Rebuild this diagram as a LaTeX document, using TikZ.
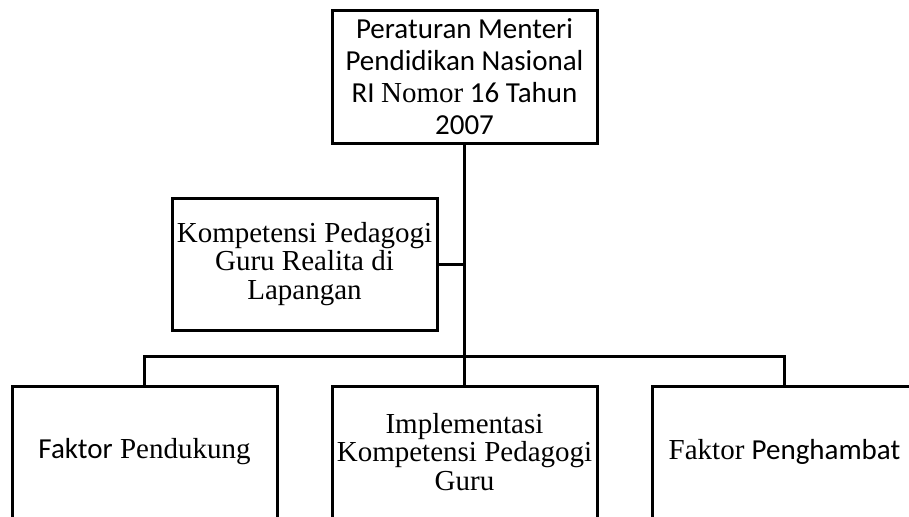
\documentclass[tikz,border=0pt]{standalone}
\usepackage{fontspec}
\setmainfont{Liberation Serif}
\newfontfamily\calfont{Carlito}
\newfontfamily\tnrfont{Liberation Serif}
\begin{document}
\begin{tikzpicture}[x=1pt,y=-1pt,
  boxnode/.style={draw=black, line width=3pt, minimum width=265pt, minimum height=132pt, inner sep=0pt, align=center},
  calsize/.style={font=\fontsize{29}{32}\selectfont\calfont},
  tnrsize/.style={font=\fontsize{29}{28.5}\selectfont\tnrfont},
  conn/.style={draw=black, line width=3pt}]
\useasboundingbox (0,0) rectangle (909,516);
\clip (0,0) rectangle (909,516);
\node[boxnode, calsize] (top) at (464.5,77) {Peraturan Menteri\\Pendidikan Nasional\\RI {\tnrfont Nomor} 16 Tahun\\2007};
\node[boxnode, tnrsize] (kp) at (304.5,264) {Kompetensi Pedagogi\\Guru Realita di\\Lapangan};
\node[boxnode, tnrsize] (fp) at (144.5,452) {{\calfont Faktor} Pendukung};
\node[boxnode, tnrsize] (im) at (464.5,452) {Implementasi\\Kompetensi Pedagogi\\Guru};
\node[boxnode, tnrsize] (fh) at (784.5,452) {Faktor {\calfont Penghambat}};
\draw[conn] (top.south) -- (im.north);
\draw[conn] (kp.east) -- (kp.east -| top.south);
\draw[conn] (fp.north) -- ++(0,-28) -| (fh.north);
\end{tikzpicture}
\end{document}
